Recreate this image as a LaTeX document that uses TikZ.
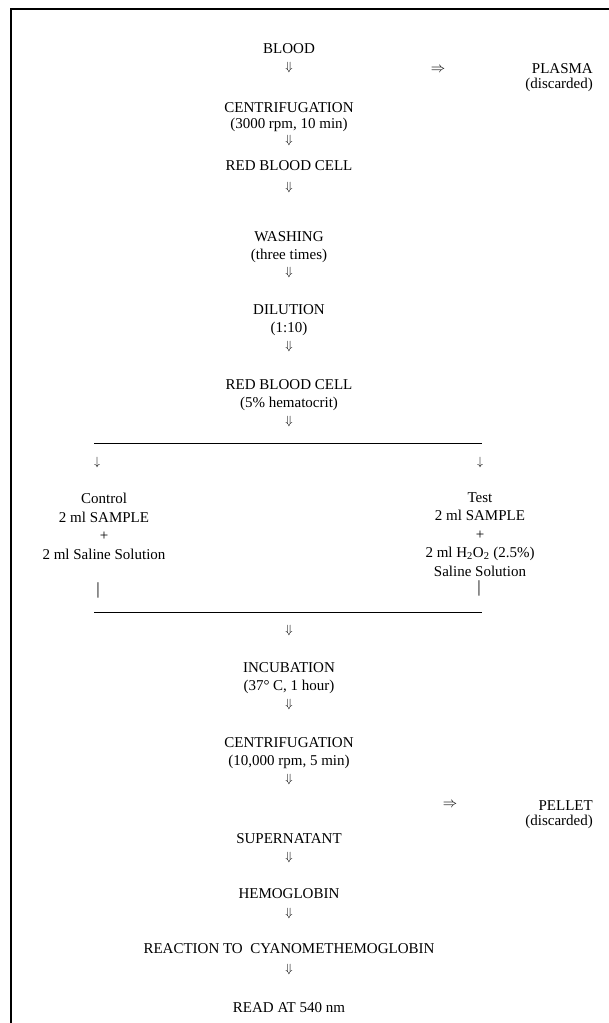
\documentclass[tikz,border=0pt]{standalone}
\usepackage{fontspec}
\setmainfont{Liberation Serif}
\begin{document}
\begin{tikzpicture}[x=1pt, y=-1pt,
    txt/.style={font=\fontsize{15}{18.5}\selectfont, align=center, anchor=north, inner sep=0pt},
    tight/.style={font=\fontsize{15}{15.5}\selectfont},
    arr/.style={font=\fontsize{13}{14}\selectfont, inner sep=0pt},
    side/.style={font=\fontsize{14}{15}\selectfont, inner sep=0pt},
    pipe/.style={font=\fontsize{17}{18}\selectfont, inner sep=0pt},
    frame/.style={line width=1.2pt},
    bar/.style={line width=0.8pt}]
	\useasboundingbox (0,0) rectangle (609,1023);

	% Frame
	\coordinate (fr-right) at (609,9);
	\coordinate (fr-corner) at (11,9);
	\coordinate (fr-bottom) at (11,1023);
	\draw[frame] (fr-right) -- (fr-corner) -- (fr-bottom);

	% Blood
	\node[txt] (blood) at (289,43) {BLOOD};
	\node[arr] (a1) at (289,67) {$\Downarrow$};

	% Plasma
	\node[side] (toplasma) at (438,70) {$\Rightarrow$};
	\node[txt, tight, align=right, anchor=north east] (plasma) at (593,63) {PLASMA\\(discarded)};

	% Centrifugation
	\node[txt, font=\fontsize{15}{16}\selectfont] (centa) at (289,102) {CENTRIFUGATION\\(3000 rpm, 10 min)};
	\node[arr] (a2) at (289,140) {$\Downarrow$};

	% Red blood cell
	\node[txt] (rbca) at (289,160) {RED BLOOD CELL};
	\node[arr] (a3) at (289,187) {$\Downarrow$};

	% Washing
	\node[txt] (wash) at (289,231) {WASHING\\(three times)};
	\node[arr] (a4) at (289,272) {$\Downarrow$};

	% Dilution
	\node[txt] (dil) at (289,304) {DILUTION\\(1:10)};
	\node[arr] (a5) at (289,346) {$\Downarrow$};

	% Red blood cell 5%
	\node[txt] (rbcb) at (289,379) {RED BLOOD CELL\\(5\% hematocrit)};
	\node[arr] (a6) at (289,421) {$\Downarrow$};

	% Split
	\coordinate (split-l) at (94,443);
	\coordinate (split-r) at (482,443);
	\draw[bar] (split-l) -- (split-r);
	\node[arr, font=\fontsize{12}{13}\selectfont] (dl) at (97,462) {$\downarrow$};
	\node[arr, font=\fontsize{12}{13}\selectfont] (dr) at (480,462) {$\downarrow$};

	% Control and test
	\node[txt] (control) at (104,493) {Control\\2 ml SAMPLE\\+\\2 ml Saline Solution};
	\node[txt] (test) at (480,492) {Test\\2 ml SAMPLE\\+\\2 ml H\textsubscript{2}O\textsubscript{2} (2.5\%)\\Saline Solution};
	\node[pipe] (bl) at (98,590) {|};
	\node[pipe] (br) at (479,588) {|};

	% Merge
	\coordinate (merge-l) at (94,612);
	\coordinate (merge-r) at (482,612);
	\draw[bar] (merge-l) -- (merge-r);
	\node[arr] (a7) at (289,630) {$\Downarrow$};

	% Incubation
	\node[txt] (inc) at (289,662) {INCUBATION\\(37° C, 1 hour)};
	\node[arr] (a8) at (289,704) {$\Downarrow$};

	% Centrifugation
	\node[txt] (centb) at (289,737) {CENTRIFUGATION\\(10,000 rpm, 5 min)};
	\node[arr] (a9) at (289,779) {$\Downarrow$};

	% Pellet
	\node[side] (topellet) at (450,805) {$\Rightarrow$};
	\node[txt, tight, align=right, anchor=north east] (pellet) at (593,800) {PELLET\\(discarded)};

	% Supernatant
	\node[txt] (sup) at (289,833) {SUPERNATANT};
	\node[arr] (a10) at (289,857) {$\Downarrow$};

	% Hemoglobin
	\node[txt] (hem) at (289,888) {HEMOGLOBIN};
	\node[arr] (a11) at (289,913) {$\Downarrow$};

	% Reaction
	\node[txt] (react) at (289,943) {REACTION TO\ \ CYANOMETHEMOGLOBIN};
	\node[arr] (a12) at (289,969) {$\Downarrow$};

	% Read
	\node[txt] (read) at (289,1002) {READ AT 540 nm};
\end{tikzpicture}
\end{document}
